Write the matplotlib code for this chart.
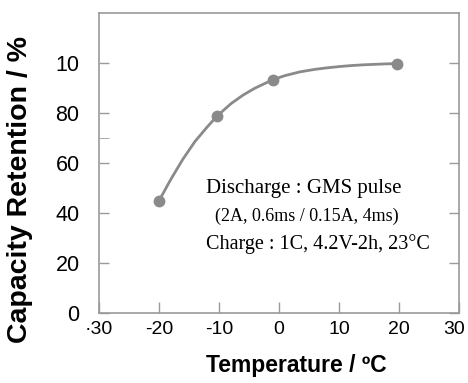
import numpy as np
import matplotlib
matplotlib.use("Agg")
import matplotlib.pyplot as plt
import matplotlib.transforms as mtransforms
from matplotlib.ticker import FixedLocator

# measured points (temperature in degC, retention in %)
temp_pts = [-20, -10.3, -1, 19.7]
cap_pts = [44.8, 78.7, 93.2, 99.6]

# fitted curve drawn through the measurements
temp_curve = [-20, -18, -16, -14, -12, -10.3, -8, -6, -4, -1, 1, 3.5, 6, 8, 10, 12, 14, 16, 18, 19.7]
cap_curve = [44.8, 53.5, 61.5, 68.5, 74.2, 78.7, 83.6, 87.0, 89.8, 93.2, 94.8, 96.3, 97.3, 97.9, 98.4, 98.8, 99.1, 99.3, 99.5, 99.6]

xticks = [-30, -20, -10, 0, 10, 20, 30]
xtick_labels = ['\u00b730', '-20', '-10', '0', '10', '20', '30']
yticks = [0, 20, 40, 60, 80, 100]
ytick_labels = ['0', '20', '40', '60', '80', '10']

GRAY = '#8a8a8a'
FRAME = '#9a9a9a'
SANS = ['Liberation Sans', 'DejaVu Sans']
SERIF = 'Liberation Serif'

fig = plt.figure(figsize=(4.68, 3.83), dpi=100)
ax = fig.add_axes([99 / 468, 70 / 383, 360 / 468, 300.5 / 383])

ax.plot(temp_curve, cap_curve, color=GRAY, lw=2.0, solid_capstyle='round')
ax.plot(temp_pts, cap_pts, 'o', color=GRAY, ms=8.5, mec='none')

ax.set_xlim(-30, 30)
ax.set_ylim(0, 120)

ax.set_xticks(xticks)
ax.set_xticklabels(xtick_labels, family=SANS, fontsize=14)
ax.set_yticks(yticks)
ax.set_yticklabels(ytick_labels, family=SANS, fontsize=15.5)
ax.yaxis.set_minor_locator(FixedLocator([70]))

ax.tick_params(axis='both', which='major', direction='in', color=FRAME, width=1)
ax.tick_params(axis='x', length=8, pad=6)
ax.tick_params(axis='y', length=7, pad=14, right=True)
ax.tick_params(axis='y', which='minor', direction='in', length=7, color=FRAME, right=False)

# keep the last x label inside the figure edge
last = ax.get_xticklabels()[-1]
last.set_transform(last.get_transform() + mtransforms.ScaledTranslation(-5 / 100, 0, fig.dpi_scale_trans))

for sp in ax.spines.values():
    sp.set_color(FRAME)
    sp.set_linewidth(1.2)

ax.set_xlabel('Temperature / \u00baC', family=SANS, fontsize=16.5, fontweight='bold')
ax.xaxis.set_label_coords(0.547, -0.135)
ax.xaxis.label.set_va('top')
ax.set_ylabel('Capacity Retention / %', family=SANS, fontsize=20.5, fontweight='bold')
ax.yaxis.set_label_coords(-0.183, 0.41)

ax.text(-12.2, 49.9, 'Discharge : GMS pulse', family=SERIF, fontsize=15, va='center')
ax.text(-10.7, 38.7, '(2A, 0.6ms / 0.15A, 4ms)', family=SERIF, fontsize=13, va='center')
ax.text(-12.2, 27.5, 'Charge : 1C, 4.2V-2h, 23\u00b0C', family=SERIF, fontsize=14.5, va='center')

fig.savefig('out.png', dpi=100)
